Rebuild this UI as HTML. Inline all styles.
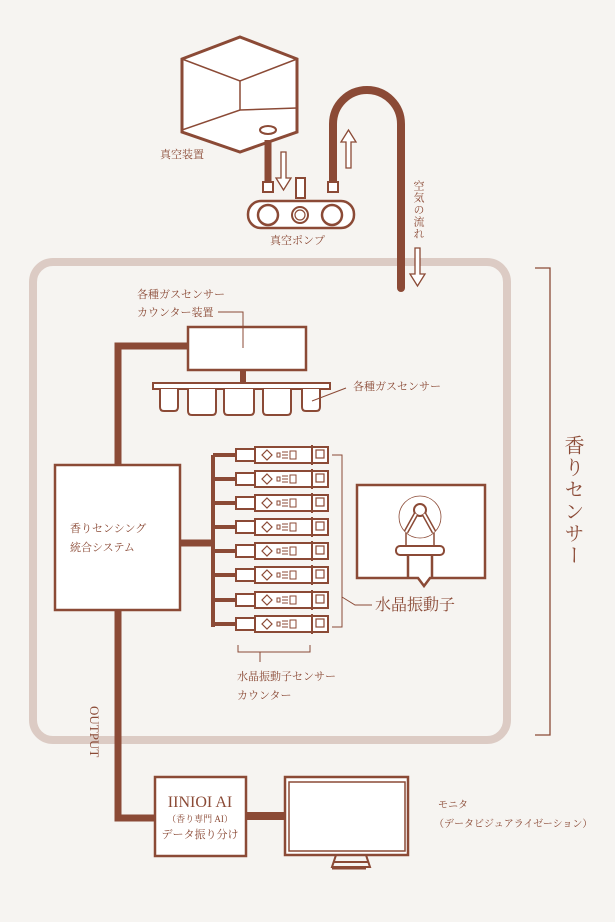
<!DOCTYPE html>
<html><head><meta charset="utf-8"><style>
html,body{margin:0;padding:0;background:#f6f4f1;}
svg{display:block;}
text{font-family:"Liberation Serif","Noto Serif CJK SC",serif;fill:#8b4a36;}
</style></head><body>
<svg width="615" height="922" viewBox="0 0 615 922" xmlns="http://www.w3.org/2000/svg">
<defs>
<g id="s">
<line x1="213" y1="0" x2="236" y2="0" stroke-width="4"/>
<rect x="236" y="-6" width="19" height="12"/>
<rect x="255" y="-8" width="73" height="16"/>
<path d="M267,-5 l5,5 l-5,5 l-5,-5 z" stroke-width="1.2"/>
<rect x="277" y="-2" width="3" height="4" stroke-width="1"/>
<path d="M282,-3 h6 M282,0 h6 M282,3 h6" stroke-width="1"/>
<rect x="290" y="-4" width="6" height="8" stroke-width="1"/>
<line x1="312" y1="-10" x2="312" y2="10" stroke-width="2"/>
<rect x="316" y="-5" width="8" height="8" stroke-width="1.2"/>
</g>
</defs>
<rect width="615" height="922" fill="#f6f4f1"/>
<g fill="none" stroke="#8b4a36">
<rect x="33" y="262" width="474" height="478" rx="20" stroke="#dccbc4" stroke-width="8"/>
<polygon points="240,37 297,59 297,132 240,152 182,132 182,59" fill="#fff" stroke-width="3"/>
<polyline points="182,59 240,81 297,59" stroke-width="1.5"/>
<line x1="240" y1="81" x2="240" y2="110" stroke-width="1.5"/>
<polyline points="182,130 240,110 297,108" stroke-width="1.5"/>
<ellipse cx="268" cy="130" rx="8" ry="4" stroke-width="2"/>
<line x1="268" y1="140" x2="268" y2="185" stroke-width="7"/>
<path d="M281,152 h5 v26 h5 l-7.5,12 l-7.5,-12 h5 z" stroke-width="1.3" fill="#fff"/>
<path d="M333,185 V124 A34,34 0 0 1 401,124 V288" stroke-width="8" stroke-linecap="round"/>
<path d="M346,168 v-26 h-5 l7.5,-12 l7.5,12 h-5 v26 z" stroke-width="1.3" fill="#fff"/>
<path d="M415,248 h5 v26 h5 l-7.5,12 l-7.5,-12 h5 z" stroke-width="1.3" fill="#fff"/>
<rect x="263" y="182" width="10" height="10" stroke-width="2" fill="#fff"/>
<rect x="328" y="182" width="10" height="10" stroke-width="2" fill="#fff"/>
<rect x="296" y="178" width="9" height="20" stroke-width="2" fill="#fff"/>
<rect x="248" y="201" width="106" height="27" rx="13" stroke-width="2.5" fill="#fff"/>
<circle cx="268" cy="215" r="10" stroke-width="2.5"/>
<circle cx="300" cy="215" r="8" stroke-width="2"/><circle cx="300" cy="215" r="5" stroke-width="1.2"/>
<circle cx="332" cy="215" r="10" stroke-width="2.5"/>
<polyline points="535,268 550,268 550,735 535,735" stroke-width="1.3"/>
<polyline points="188,346 118,346 118,465" stroke-width="7"/>
<rect x="188" y="327" width="118" height="43" fill="#fff" stroke-width="2.5"/>
<polyline points="218,312 243,312 243,348" stroke-width="1"/>
<line x1="243" y1="370" x2="243" y2="383" stroke-width="6"/>
<rect x="153" y="383" width="177" height="6" fill="#fff" stroke-width="2"/>
<path d="M160,389 v18 q0,4 4,4 h10 q4,0 4,-4 v-18" stroke-width="2" fill="#fff"/>
<path d="M188,389 v22 q0,4 4,4 h20 q4,0 4,-4 v-22" stroke-width="2" fill="#fff"/>
<path d="M224,389 v22 q0,4 4,4 h22 q4,0 4,-4 v-22" stroke-width="2" fill="#fff"/>
<path d="M263,389 v22 q0,4 4,4 h20 q4,0 4,-4 v-22" stroke-width="2" fill="#fff"/>
<path d="M302,389 v18 q0,4 4,4 h10 q4,0 4,-4 v-18" stroke-width="2" fill="#fff"/>
<line x1="312" y1="401" x2="346" y2="388" stroke-width="1"/>
<polyline points="118,610 118,818 155,818" stroke-width="7"/>
<rect x="55" y="465" width="125" height="145" fill="#fff" stroke-width="2.5"/>
<line x1="180" y1="543" x2="213" y2="543" stroke-width="7"/>
<line x1="213" y1="455" x2="213" y2="627" stroke-width="4"/>
<polyline points="332,455 342,455 342,627 332,627" stroke-width="1"/>
<polyline points="342,597 355,605 372,605" stroke-width="1"/>
<polyline points="238,645 238,652 310,652 310,645" stroke-width="1"/>
<line x1="260" y1="652" x2="260" y2="662" stroke-width="1"/>
<path d="M357,485 h128 v93 h-55 l-6,8 l-6,-8 h-61 z" fill="#fff" stroke-width="2.5"/>
<circle cx="420" cy="517" r="21" stroke-width="0.8"/>
<circle cx="420" cy="510" r="6" stroke-width="2"/>
<path d="M416,514 L406,532 M424,514 L434,532" stroke-width="5"/>
<path d="M416,514 L406,532 M424,514 L434,532" stroke="#fff" stroke-width="2"/>
<line x1="406" y1="533" x2="406" y2="546" stroke-width="1.5"/>
<line x1="434" y1="533" x2="434" y2="546" stroke-width="1.5"/>
<rect x="396" y="546" width="48" height="9" rx="4" stroke-width="2" fill="#fff"/>
<line x1="408" y1="555" x2="408" y2="578" stroke-width="2.5"/>
<line x1="432" y1="555" x2="432" y2="578" stroke-width="2.5"/>
<rect x="155" y="777" width="91" height="79" fill="#fff" stroke-width="2.5"/>
<line x1="246" y1="816" x2="285" y2="816" stroke-width="8"/>
<rect x="285" y="777" width="123" height="78" fill="#fff" stroke-width="2.5"/>
<rect x="289" y="782" width="116" height="69" stroke-width="1.5"/>
<path d="M336,855 l-4,12 h38 l-4,-12 M334,862 h34" stroke-width="2"/>
<line x1="332" y1="868" x2="366" y2="868" stroke-width="3"/>
</g>
<g fill="#fff" stroke="#8b4a36" stroke-width="2">
<use href="#s" transform="translate(0,455)"/>
<use href="#s" transform="translate(0,479)"/>
<use href="#s" transform="translate(0,503)"/>
<use href="#s" transform="translate(0,527)"/>
<use href="#s" transform="translate(0,551)"/>
<use href="#s" transform="translate(0,575)"/>
<use href="#s" transform="translate(0,600)"/>
<use href="#s" transform="translate(0,624)"/>
</g>
<text x="160" y="158" font-size="11">真空装置</text>
<text x="270" y="244" font-size="11">真空ポンプ</text>
<text x="418" y="180" font-size="11" style="writing-mode:vertical-rl" letter-spacing="1">空気の流れ</text>
<text x="137" y="298" font-size="11">各種ガスセンサー</text>
<text x="137" y="316" font-size="11">カウンター装置</text>
<text x="353" y="390" font-size="11">各種ガスセンサー</text>
<text x="70" y="532" font-size="11">香りセンシング</text>
<text x="70" y="551" font-size="11">統合システム</text>
<text x="375" y="610" font-size="16">水晶振動子</text>
<text x="237" y="680" font-size="11">水晶振動子センサー</text>
<text x="237" y="699" font-size="11">カウンター</text>
<text x="572" y="435" font-size="20" style="writing-mode:vertical-rl" letter-spacing="2">香りセンサー</text>
<text x="86" y="706" font-size="13" transform="rotate(90 86 706)" dy="-4">OUTPUT</text>
<text x="200" y="807" font-size="16" text-anchor="middle">IINIOI AI</text>
<text x="200" y="822" font-size="9" text-anchor="middle">（香り専門 AI）</text>
<text x="200" y="838" font-size="11" text-anchor="middle">データ振り分け</text>
<text x="438" y="808" font-size="10">モニタ</text>
<text x="434" y="827" font-size="10">（データビジュアライゼーション）</text>
</svg>
</body></html>
